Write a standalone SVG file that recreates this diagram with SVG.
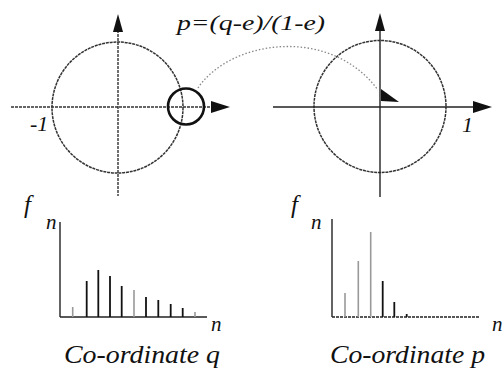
<svg xmlns="http://www.w3.org/2000/svg" width="503" height="369" viewBox="0 0 503 369">
<style>
.t{font-family:"Liberation Serif","Times New Roman",serif;font-style:italic;fill:#111}
.ax{stroke:#222;stroke-width:1.4;fill:none}
.axl{stroke:#333;stroke-width:1.4;fill:none;stroke-dasharray:3 1}
.circ{stroke:#333;stroke-width:1.5;fill:none;stroke-dasharray:3 0.8}
.bar{stroke:#111;stroke-width:1.8}
.barl{stroke:#999;stroke-width:1.6}
.head{fill:#111}
</style>
<rect width="503" height="369" fill="#fff"/>
<g id="left-plane">
  <circle class="circ" cx="117.5" cy="107.5" r="65.5"/>
  <line class="axl" x1="11" y1="107" x2="212" y2="107"/>
  <line class="axl" x1="118" y1="30" x2="118" y2="196"/>
  <polygon class="head" points="230,107 211,101 211,113"/>
  <polygon class="head" points="118,14 113,32 123,32"/>
  <text class="t" x="30" y="131" font-size="22">-1</text>
</g>
<g id="small-circle">
  <circle cx="186" cy="106.5" r="18" fill="none" stroke="#111" stroke-width="2.6"/>
</g>
<g id="right-plane">
  <circle class="circ" cx="380" cy="106.5" r="66"/>
  <line class="ax" x1="273" y1="107" x2="475" y2="107"/>
  <line class="ax" x1="380" y1="29" x2="380" y2="197"/>
  <polygon class="head" points="492,107 473,101 473,113"/>
  <polygon class="head" points="380,13 375,31 385,31"/>
  <text class="t" x="462" y="132" font-size="22">1</text>
</g>
<g id="connectors">
  <path d="M198,88 C230,40 330,25 378,90" fill="none" stroke="#888" stroke-width="1.3" stroke-dasharray="1.5 2"/>
  <polygon class="head" points="381,89 399,102 381,101"/>
</g>
<g id="formula">
  <text class="t" x="177" y="30" font-size="21" textLength="148" lengthAdjust="spacingAndGlyphs">p=(q-e)/(1-e)</text>
</g>
<g id="chart-q">
  <line class="ax" x1="60" y1="222" x2="60" y2="317" stroke="#777"/>
  <line class="ax" x1="60" y1="317" x2="207" y2="317" stroke="#444"/>
  <line class="barl" x1="72.7" y1="307" x2="72.7" y2="317"/>
  <line class="bar" x1="86.7" y1="281" x2="86.7" y2="317"/>
  <line class="bar" x1="98.3" y1="270" x2="98.3" y2="317"/>
  <line class="bar" x1="110" y1="276" x2="110" y2="317"/>
  <line class="bar" x1="121.7" y1="286" x2="121.7" y2="317"/>
  <line class="barl" x1="134" y1="290" x2="134" y2="317" stroke="#666"/>
  <line class="bar" x1="146" y1="297" x2="146" y2="317"/>
  <line class="bar" x1="158.3" y1="300" x2="158.3" y2="317"/>
  <line class="bar" x1="170.7" y1="304" x2="170.7" y2="317"/>
  <line class="bar" x1="182.7" y1="308" x2="182.7" y2="317"/>
  <line class="barl" x1="195" y1="312" x2="195" y2="317"/>
  <text class="t" x="24" y="213" font-size="25">f</text>
  <text class="t" x="46" y="229" font-size="21">n</text>
  <text class="t" x="211" y="331" font-size="21">n</text>
  <text class="t" x="64" y="363" font-size="25" textLength="156" lengthAdjust="spacingAndGlyphs">Co-ordinate q</text>
</g>
<g id="chart-p">
  <line class="ax" x1="332" y1="219" x2="332" y2="317" stroke="#777"/>
  <line class="ax" x1="332" y1="317" x2="479" y2="317" stroke="#444" stroke-dasharray="3 1"/>
  <line class="barl" x1="345" y1="293" x2="345" y2="317"/>
  <line class="barl" x1="358.3" y1="261" x2="358.3" y2="317" stroke="#666"/>
  <line class="barl" x1="370.7" y1="232" x2="370.7" y2="317" stroke="#777"/>
  <line class="bar" x1="382.7" y1="281" x2="382.7" y2="317"/>
  <line class="bar" x1="394.3" y1="302" x2="394.3" y2="317"/>
  <line class="bar" x1="406.7" y1="314" x2="406.7" y2="317"/>
  <text class="t" x="291" y="213" font-size="25">f</text>
  <text class="t" x="311" y="229" font-size="21">n</text>
  <text class="t" x="492" y="331" font-size="21">n</text>
  <text class="t" x="330" y="363" font-size="25" textLength="155" lengthAdjust="spacingAndGlyphs">Co-ordinate p</text>
</g>
</svg>
